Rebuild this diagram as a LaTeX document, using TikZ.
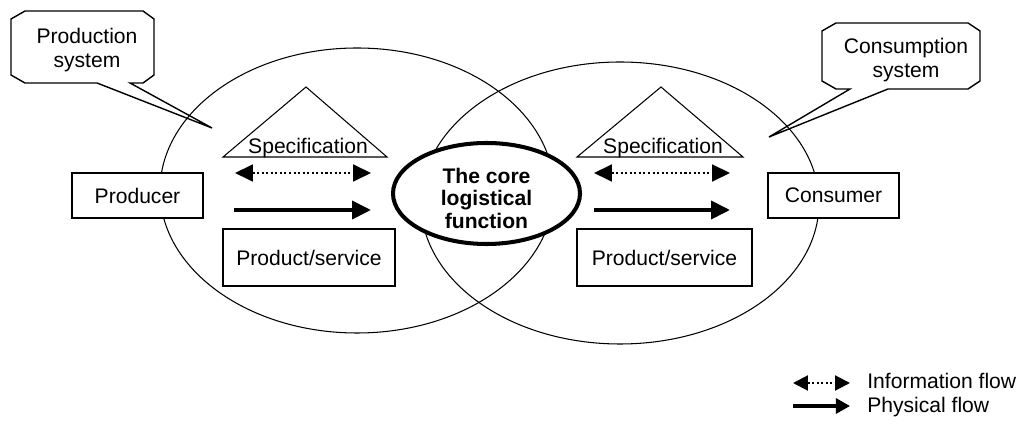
\documentclass[tikz,border=0pt]{standalone}
\usepackage{fontspec}
\setmainfont{Liberation Sans}
\usetikzlibrary{arrows.meta,shapes.geometric}
\begin{document}
\begin{tikzpicture}[x=0.02cm,y=-0.02cm,
  thin line/.style={line width=0.6pt},
  boxnode/.style={draw,line width=0.7pt,minimum width=#1,minimum height=45*0.02cm,inner sep=0pt,font=\fontsize{12}{13.6}\selectfont},
  txt/.style={inner sep=0pt,font=\fontsize{12}{13.6}\selectfont},
  infoarrow/.style={line width=1.2pt,dash pattern=on 1.2pt off 1.4pt,
     {Triangle[length=10.2pt,width=9.6pt]}-{Triangle[length=10.2pt,width=9.6pt]}},
  physarrow/.style={line width=2.3pt,-{Triangle[length=10.8pt,width=10.2pt]}},
  callout/.style={line width=0.8pt,line join=miter}]
\useasboundingbox (0,0) rectangle (1023,421);

% big ellipses
\draw[thin line] (357,190.5) ellipse [x radius=197, y radius=142.5];
\draw[thin line] (620,203) ellipse [x radius=199, y radius=141];

% callouts
\draw[callout] (25,11) -- (143,11) -- (154,19) -- (154,75) -- (143,83) -- (130,83) -- (212,128) -- (97,83) -- (25,83) -- (11,75) -- (11,19) -- cycle;
\node[txt,align=center] (prodsys) at (87,50) {Production\\system};
\draw[callout] (836,23) -- (968,23) -- (980,31) -- (980,81) -- (968,89) -- (888,89) -- (769,137) -- (850,89) -- (836,89) -- (822,81) -- (822,31) -- cycle;
\node[txt,align=center] (conssys) at (906,60) {Consumption\\system};

% triangles
\draw[thin line] (223,157) -- (306,87) -- (387,157) -- cycle;
\node[txt,anchor=base] (spec1) at (308,154) {Specification};
\draw[thin line] (577,157) -- (661,87) -- (743,157) -- cycle;
\node[txt,anchor=base] (spec2) at (663,154) {Specification};

% boxes
\node[boxnode=131*0.02cm,fill=white] (prod) at (137.5,195.5) {Producer};
\node[boxnode=131*0.02cm,fill=white] (cons) at (833.5,195.5) {Consumer};
\node[boxnode=172*0.02cm,minimum height=57*0.02cm] (ps1) at (309,257.5) {Product/service};
\node[boxnode=175*0.02cm,minimum height=57*0.02cm] (ps2) at (664.5,257.5) {Product/service};

% core
\node[draw,ellipse,line width=2.3pt,minimum width=187*0.02cm,minimum height=101*0.02cm,inner sep=0pt,fill=white] (core) at (486.5,193.5) {};
\node[txt,align=center,font=\bfseries\fontsize{12}{12.8}\selectfont] (coretxt) at (486.5,198) {The core\\logistical\\function};

% arrows
\coordinate (a1s) at (235,173); \coordinate (a1e) at (371,173);
\coordinate (b1s) at (234,210); \coordinate (b1e) at (371,210);
\coordinate (a2s) at (594,173); \coordinate (a2e) at (730,173);
\coordinate (b2s) at (594,210); \coordinate (b2e) at (730,210);
\draw[infoarrow] (a1s) -- (a1e);
\draw[physarrow] (b1s) -- (b1e);
\draw[infoarrow] (a2s) -- (a2e);
\draw[physarrow] (b2s) -- (b2e);

% legend
\coordinate (l1s) at (793,383); \coordinate (l1e) at (850,383);
\coordinate (l2s) at (793,406); \coordinate (l2e) at (850,406);
\draw[line width=1.2pt,dash pattern=on 1.2pt off 1.4pt,
  {Triangle[length=8.5pt,width=8.5pt]}-{Triangle[length=8.5pt,width=8.5pt]}] (l1s) -- (l1e);
\draw[line width=1.8pt,-{Triangle[length=8pt,width=8.5pt]}] (l2s) -- (l2e);
\node[txt,anchor=base west] (leg1) at (867,389) {Information flow};
\node[txt,anchor=base west] (leg2) at (867,413) {Physical flow};
\end{tikzpicture}
\end{document}
